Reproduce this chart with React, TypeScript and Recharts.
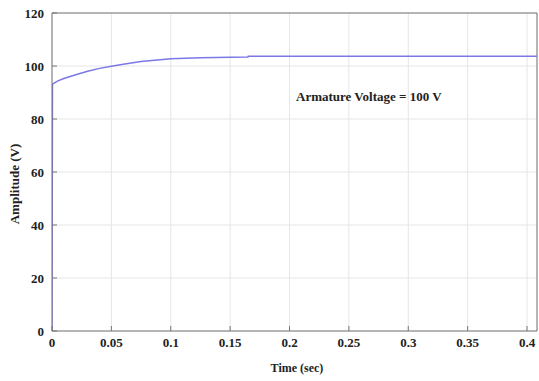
import * as React from 'react';
import { LineChart, Line, XAxis, YAxis, CartesianGrid, ReferenceLine } from 'recharts';

// time (sec) and armature voltage response (V)
const timeSec = [0, 0.0004, 0.005, 0.01, 0.02, 0.03, 0.04, 0.05, 0.06, 0.075, 0.1, 0.125, 0.15, 0.165, 0.1652, 0.2, 0.3, 0.4084];
const amplitude = [0, 93.2, 94.4, 95.3, 96.7, 98, 99.1, 99.9, 100.7, 101.7, 102.7, 103.1, 103.3, 103.4, 103.7, 103.7, 103.7, 103.7];

const xTicks = [0, 0.05, 0.1, 0.15, 0.2, 0.25, 0.3, 0.35, 0.4];
const yTicks = [0, 20, 40, 60, 80, 100, 120];
const xMax = 0.4084;

const data = timeSec.map((t, i) => ({ t, v: amplitude[i] }));

const font = '"Liberation Serif", "Times New Roman", serif';
const tickStyle = { fontFamily: font, fontSize: 13, fontWeight: 700, fill: '#222' };

export default function App() {
    return (
        <div style={{ position: 'absolute', left: 0, top: 0 }}>
            <LineChart width={539} height={381} data={data} margin={{ top: 13, right: 2, bottom: 0, left: 0 }}>
                <CartesianGrid stroke='#e6e6e6' />
                <XAxis
                    dataKey='t'
                    type='number'
                    domain={[0, xMax]}
                    ticks={xTicks}
                    allowDataOverflow
                    height={50}
                    tickSize={-5}
                    tickMargin={12}
                    stroke='#777'
                    tick={tickStyle}
                    tickFormatter={(v: number) => String(v)}
                />
                <YAxis
                    type='number'
                    domain={[0, 120]}
                    ticks={yTicks}
                    width={52}
                    tickSize={-5}
                    tickMargin={13}
                    stroke='#777'
                    tick={tickStyle}
                />
                <ReferenceLine y={120} stroke='#777' />
                <ReferenceLine x={xMax} stroke='#777' />
                <Line
                    type='linear'
                    dataKey='v'
                    stroke='#7b78e6'
                    strokeWidth={1.5}
                    dot={false}
                    isAnimationActive={false}
                />
                <text x={296} y={101} fontFamily={font} fontSize={13} fontWeight={700} fill='#222'>
                    Armature Voltage =  100 V
                </text>
                <text x={297} y={372} textAnchor='middle' fontFamily={font} fontSize={12} fontWeight={700} fill='#222'>
                    Time (sec)
                </text>
                <text x={19} y={184} textAnchor='middle' transform='rotate(-90 19 184)' fontFamily={font} fontSize={13} fontWeight={700} fill='#222'>
                    Amplitude (V)
                </text>
            </LineChart>
        </div>
    );
}
